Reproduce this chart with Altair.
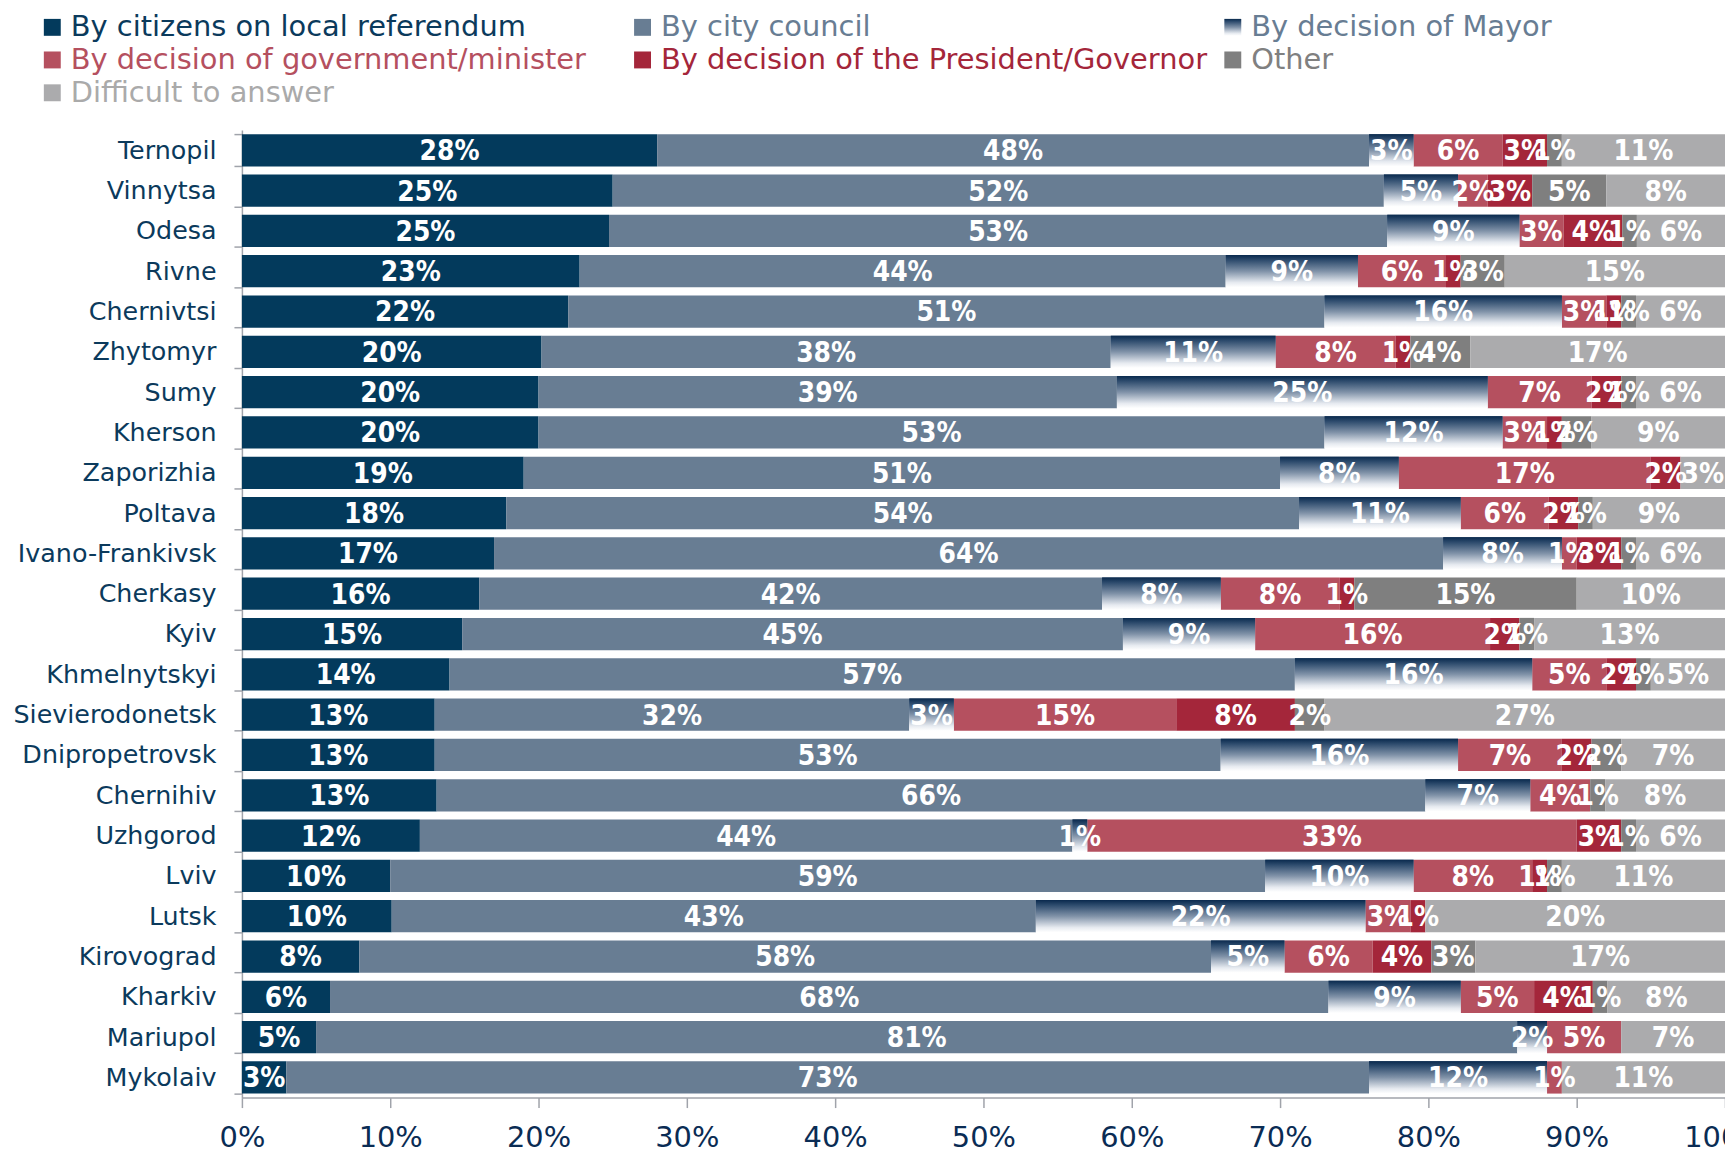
import altair as alt
import pandas as pd

cities = ["Ternopil", "Vinnytsa", "Odesa", "Rivne", "Chernivtsi", "Zhytomyr", "Sumy",
          "Kherson", "Zaporizhia", "Poltava", "Ivano-Frankivsk", "Cherkasy", "Kyiv",
          "Khmelnytskyi", "Sievierodonetsk", "Dnipropetrovsk", "Chernihiv", "Uzhgorod",
          "Lviv", "Lutsk", "Kirovograd", "Kharkiv", "Mariupol", "Mykolaiv"]

series = ["By citizens on local referendum", "By city council", "By decision of Mayor",
          "By decision of government/minister", "By decision of the President/Governor",
          "Other", "Difficult to answer"]

referendum = [28, 25, 25, 23, 22, 20, 20, 20, 19, 18, 17, 16, 15, 14, 13, 13, 13, 12, 10, 10, 8, 6, 5, 3]
council    = [48, 52, 53, 44, 51, 38, 39, 53, 51, 54, 64, 42, 45, 57, 32, 53, 66, 44, 59, 43, 58, 68, 81, 73]
mayor      = [3, 5, 9, 9, 16, 11, 25, 12, 8, 11, 8, 8, 9, 16, 3, 16, 7, 1, 10, 22, 5, 9, 2, 12]
government = [6, 2, 3, 6, 3, 8, 7, 3, 17, 6, 1, 8, 16, 5, 15, 7, 4, 33, 8, 3, 6, 5, 5, 1]
president  = [3, 3, 4, 1, 1, 1, 2, 1, 2, 2, 3, 1, 2, 2, 8, 2, 0, 3, 1, 1, 4, 4, 0, 0]
other      = [1, 5, 1, 3, 1, 4, 1, 2, 0, 1, 1, 15, 1, 1, 2, 2, 1, 1, 1, 0, 3, 1, 0, 0]
difficult  = [11, 8, 6, 15, 6, 17, 6, 9, 3, 9, 6, 10, 13, 5, 27, 7, 8, 6, 11, 20, 17, 8, 7, 11]

x_ticks = [0.0, 0.1, 0.2, 0.3, 0.4, 0.5, 0.6, 0.7, 0.8, 0.9, 1.0]

colors = ["#033A5C", "#687D93", "#34506F", "#B5505F", "#A4263A", "#7F7F7F", "#ABABAD"]
label_colors = ["#0B3A5C", "#687D93", "#687D93", "#B5505F", "#A4263A", "#808080", "#AAAAAA"]

# order of the legend domain so that Vega's column-major legend reads row by row
legend_order = [0, 3, 5, 1, 4, 6, 2]

all_vals = [referendum, council, mayor, government, president, other, difficult]
rows = []
for i, c in enumerate(cities):
    for k, (s, vals) in enumerate(zip(series, all_vals)):
        rows.append({"city": c, "series": s, "order": k, "value": vals[i],
                     "label": f"{vals[i]}%"})
df = pd.DataFrame(rows)

MAYOR = series[2]
grad_stops = [(0, "#0A2A4E"), (0.15, "#2C4A6C"), (0.5, "#8092A8"), (0.85, "#E6EAF0"), (1, "#FFFFFF")]
grad = alt.LinearGradient(
    gradient="linear", x1=0, y1=0, x2=0, y2=1,
    stops=[alt.GradientStop(color=c, offset=o) for o, c in grad_stops])

expr = f"'{label_colors[-1]}'"
for s, c in reversed(list(zip(series[:-1], label_colors[:-1]))):
    expr = f"datum.value === '{s}' ? '{c}' : ({expr})"

grad_expr = ("{gradient: 'linear', x1: 0, y1: 0, x2: 0, y2: 1, stops: ["
             + ", ".join(f"{{offset: {o}, color: '{c}'}}" for o, c in grad_stops) + "]}")
sym_expr = f"datum.value === '{MAYOR}' ? {grad_expr} : scale('color', datum.value)"

FONT = "DejaVu Sans"

xaxis = alt.Axis(format=".0%", values=x_ticks, title=None, grid=False,
                 labelFont=FONT, labelFontSize=29, labelColor="#0A2C54",
                 labelPadding=16, tickSize=10, tickColor="#A0A3AA", domainColor="#A0A3AA",
                 domainWidth=1.5, tickWidth=1.5, labelFlush=False)
yaxis = alt.Axis(title=None, grid=False, tickBand="extent", labelFont=FONT,
                 labelFontSize=25.5, labelColor="#0B3A5C", labelPadding=18, tickSize=8,
                 tickColor="#A0A3AA", domainColor="#A0A3AA", domainWidth=1.5, tickWidth=1.5,
                 labelLimit=400)
xsc = alt.Scale(domain=[0, 1], nice=False)
ysc = alt.Scale(paddingInner=0.2, paddingOuter=0.1)


def build(use_grad_range, legend_encode):
    dom = [series[i] for i in legend_order]
    rng = [colors[i] for i in legend_order]
    if use_grad_range:
        rng = [({"expr": grad_expr} if series[i] == MAYOR else colors[i]) for i in legend_order]
    legend_kwargs = dict(orient="none", legendX=-205, legendY=-118, columns=3,
                         symbolType="square", symbolSize=289, symbolStrokeWidth=0,
                         symbolOpacity=1, labelFont=FONT, labelFontSize=29,
                         labelColor={"expr": expr}, labelOffset=4, columnPadding=11,
                         rowPadding=3, gridAlign="all", labelLimit=900, padding=0)
    if legend_encode is not None:
        legend_kwargs["encode"] = legend_encode
    legend = alt.Legend(**legend_kwargs)

    base = alt.Chart(df).transform_stack(
        stack="value", groupby=["city"], as_=["x0", "x1"], offset="normalize",
        sort=[alt.SortField("order", order="ascending")]
    ).transform_calculate(xm="(datum.x0 + datum.x1) / 2")

    bars = base.mark_bar().encode(
        y=alt.Y("city:N", sort=cities, scale=ysc, axis=yaxis),
        x=alt.X("x0:Q", scale=xsc, axis=xaxis),
        x2="x1:Q",
        color=alt.Color("series:N", scale=alt.Scale(domain=dom, range=rng),
                        legend=legend, title=None),
    )
    mayor_bars = base.transform_filter(f"datum.series === '{MAYOR}'").mark_bar(
        color=grad).encode(
        y=alt.Y("city:N", sort=cities, scale=ysc, axis=yaxis),
        x=alt.X("x0:Q", scale=xsc, axis=xaxis),
        x2="x1:Q",
    )
    texts = base.transform_filter("datum.value > 0").mark_text(
        color="white", font="DejaVu Sans Condensed", fontWeight="bold", fontSize=28,
        baseline="middle", align="center", dy=2
    ).encode(
        y=alt.Y("city:N", sort=cities, scale=ysc, axis=yaxis),
        x=alt.X("xm:Q", scale=xsc, axis=xaxis),
        text="label:N",
    )
    ch = alt.layer(bars, mayor_bars, texts).properties(
        width=1490, height=972,
        autosize=alt.AutoSizeParams(type="none"),
        padding={"left": 235, "top": 120, "right": 0, "bottom": 62},
        background="white",
    ).configure_view(strokeWidth=0)
    ch.to_dict()
    return ch


chart = None
for use_grad, enc in [
    (True, None),
    (False, {"symbols": {"fill": {"value": {"expr": sym_expr}}}}),
    (False, None),
]:
    try:
        chart = build(use_grad, enc)
        break
    except Exception:
        chart = None

chart.save("out.html", embed_options={"renderer": "svg", "actions": False})
